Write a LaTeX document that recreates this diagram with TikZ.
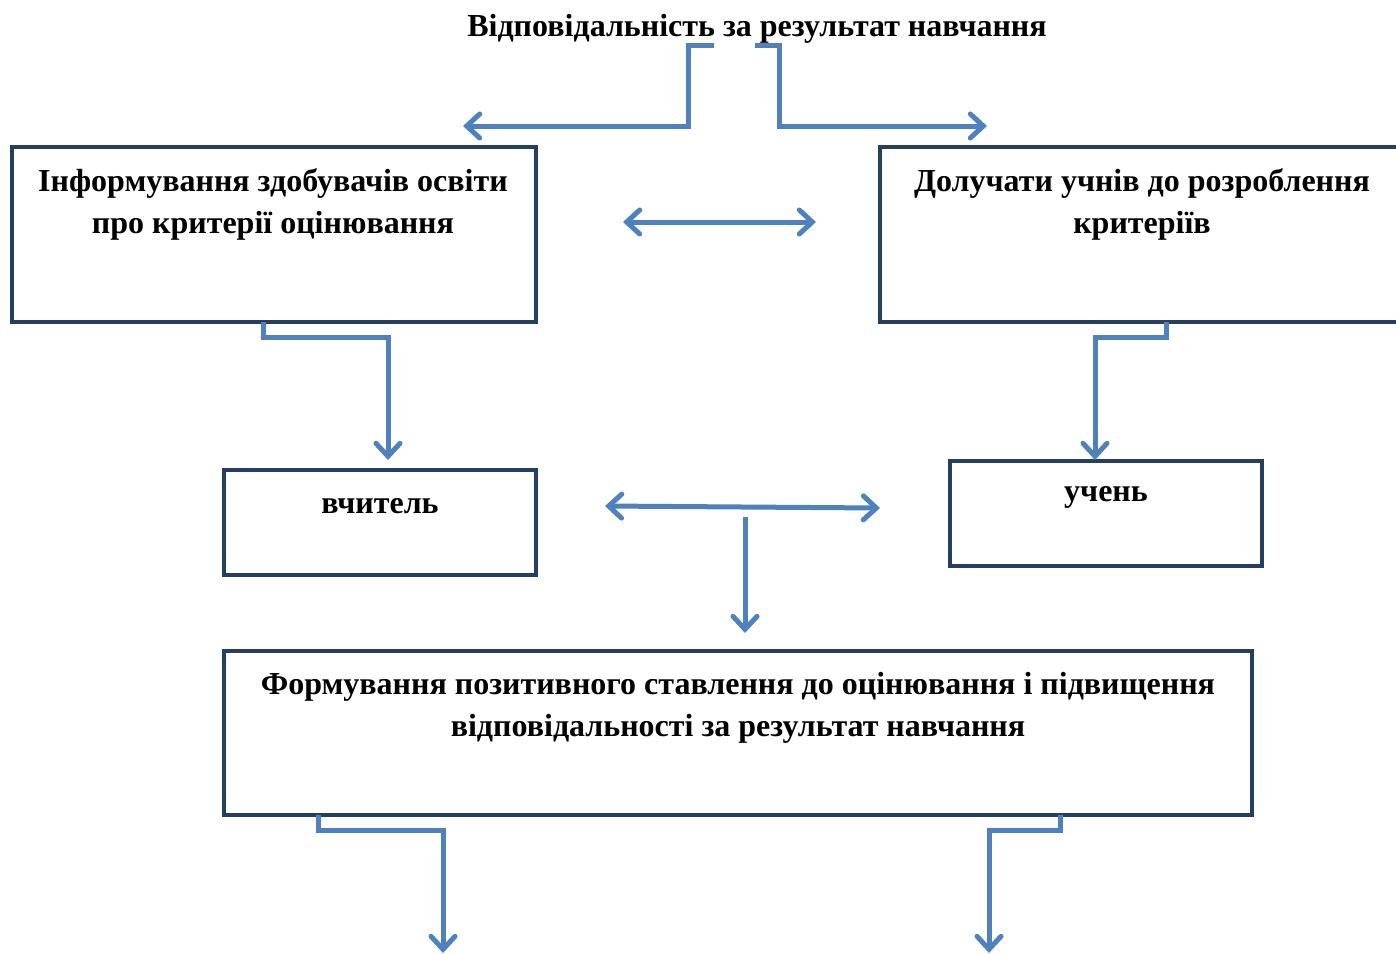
\documentclass[tikz,border=0pt]{standalone}
\usepackage{fontspec}
\setmainfont{Liberation Serif}
\usetikzlibrary{arrows.meta}
\definecolor{boxc}{HTML}{243F60}
\definecolor{linec}{HTML}{4F81BD}
\tikzset{
  box/.style={draw=boxc, line width=4pt, fill=white, inner sep=0pt},
  txt/.style={font=\fontsize{32}{42}\selectfont\bfseries, align=center, inner sep=0pt, text=black},
  conn/.style={draw=linec, line width=5pt, -{Straight Barb[length=13pt,width=24pt,line cap=round]}},
  dconn/.style={draw=linec, line width=5pt, {Straight Barb[length=13pt,width=24pt,line cap=round]}-{Straight Barb[length=13pt,width=24pt,line cap=round]}}
}
\begin{document}
\begin{tikzpicture}[x=1pt,y=-1pt]
\useasboundingbox (0,0) rectangle (1396,953);
\clip (0,0) rectangle (1396,953);
\fill[white] (0,0) rectangle (1396,953);
% title
\node[txt] (title) at (757,29) {Відповідальність за результат навчання};
% boxes
\node[box, minimum width=524pt, minimum height=175pt] (b1) at (274,234.5) {};
\node[box, minimum width=540pt, minimum height=175pt] (b2) at (1150,234.5) {};
\node[box, minimum width=312pt, minimum height=105pt] (b3) at (380,522.5) {};
\node[box, minimum width=312pt, minimum height=105pt] (b4) at (1106,513.5) {};
\node[box, minimum width=1028pt, minimum height=164pt] (b5) at (738,733) {};
% texts
\node[txt] (t1) at (273,204) {Інформування здобувачів освіти\\про критерії оцінювання};
\node[txt] (t2) at (1142,204) {Долучати учнів до розроблення\\критеріїв};
\node[txt] (t3) at (380,506) {вчитель};
\node[txt] (t4) at (1106,497) {учень};
\node[txt] (t5) at (738,708) {Формування позитивного ставлення до оцінювання і підвищення\\відповідальності за результат навчання};
% coordinates
\coordinate (ls) at (714,45);
\coordinate (lt) at (463,126);
\coordinate (rs) at (755,45);
\coordinate (rt) at (987,126);
\coordinate (da1) at (623,222);
\coordinate (da2) at (816,222);
\coordinate (b1s) at (263,322);
\coordinate (b3t) at (388,460);
\coordinate (b2s) at (1166,322);
\coordinate (b4t) at (1095,460);
\coordinate (ma1) at (605,506);
\coordinate (ma2) at (880,508);
\coordinate (mds) at (745,517);
\coordinate (mdt) at (745,633);
\coordinate (b5l) at (318,815);
\coordinate (e1) at (443,953);
\coordinate (b5r) at (1060,815);
\coordinate (e2) at (989,953);
% connectors
\draw[conn] (ls) -- (688,45) -- (688,126) -- (lt);
\draw[conn] (rs) -- (779,45) -- (779,126) -- (rt);
\draw[dconn] (da1) -- (da2);
\draw[conn] (b1s) -- (263,337) -- (388,337) -- (b3t);
\draw[conn] (b2s) -- (1166,337) -- (1095,337) -- (b4t);
\draw[dconn] (ma1) -- (ma2);
\draw[conn] (mds) -- (mdt);
\draw[conn] (b5l) -- (318,830) -- (443,830) -- (e1);
\draw[conn] (b5r) -- (1060,830) -- (989,830) -- (e2);
\end{tikzpicture}
\end{document}
